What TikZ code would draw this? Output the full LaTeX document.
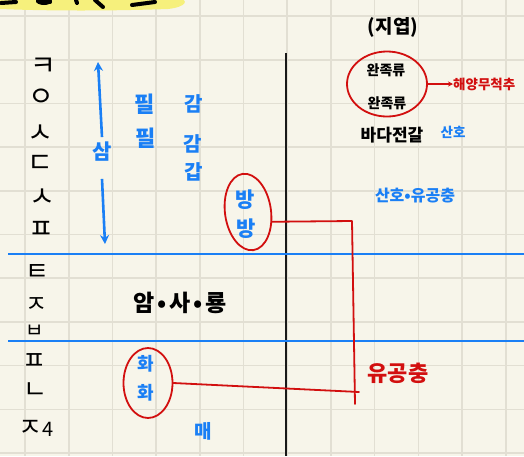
\documentclass[tikz,border=0pt]{standalone}
\usepackage{fontspec}
\newfontfamily\kr{Noto Sans CJK KR}
\usetikzlibrary{arrows.meta,shapes.geometric}
\definecolor{paper}{HTML}{F7F5EA}
\definecolor{gridc}{HTML}{E2DFD3}
\definecolor{pblue}{HTML}{1A7FF5}
\definecolor{pred}{HTML}{D20F0F}
\definecolor{hl}{HTML}{F6F07C}
\tikzset{
  txt/.style={inner sep=0pt, font=\kr\bfseries\fontsize{#1}{#1}\selectfont},
  jamo/.style={inner sep=0pt, text=black, font=\kr\fontsize{#1}{#1}\selectfont},
  blk/.style={txt=#1, text=black},
  blu/.style={txt=#1, text=pblue},
  rdt/.style={txt=#1, text=pred},
  redring/.style={draw=pred, line width=1.8pt, ellipse, inner sep=0pt},
  redline/.style={draw=pred, line width=1.8pt, line cap=round, line join=round},
  blueline/.style={draw=pblue, line width=2.6pt},
  bluearrow/.style={draw=pblue, line width=2.6pt, -{Stealth[length=9pt,width=9pt]}},
}
\begin{document}
\begin{tikzpicture}[x=1pt,y=-1pt]
\useasboundingbox (0,0) rectangle (524,456);
\fill[paper] (0,0) rectangle (524,456);
% grid
\foreach \i in {0,...,11} \draw[gridc, line width=1.6pt] ({25+43.7*\i},0) -- ({25+43.7*\i},456);
\foreach \i in {0,...,10} \draw[gridc, line width=1.6pt] (0,{16+43.7*\i}) -- (524,{16+43.7*\i});
% title highlight (cut off at top)
\fill[hl] (0,-2) -- (178,-2) .. controls (190,0) and (186,7) .. (168,9)
  .. controls (110,11) and (50,11) .. (0,9) -- cycle;
\begin{scope}[line width=4pt, line cap=round, black]
  \draw (1,3) -- (16,2);
  \draw (38,1) -- (50,2);
  \fill (44,1) ellipse (8pt and 4pt);
  \draw (76,0) -- (77,3);
  \draw (95,0) -- (103,7);
  \draw (132,5) -- (155,2);
\end{scope}
% main separators
\draw[line width=2.4pt, black!90] (286,53) -- (286,456);
\draw[blueline] (8,254) -- (524,254);
\draw[blueline] (8,341) -- (524,341);
% left column letters
\node[jamo=28] (k1) at (43,67) {ㅋ};
\node[jamo=28] (k2) at (41,98) {ㅇ};
\node[jamo=28] (k3) at (40,134) {ㅅ};
\node[jamo=28] (k4) at (40,164) {ㄷ};
\node[jamo=28] (k5) at (42,198) {ㅅ};
\node[jamo=28] (k6) at (41,230) {ㅍ};
\node[jamo=26] (m1) at (37,272) {ㅌ};
\node[jamo=24] (m2) at (37,305) {ㅈ};
\node[jamo=20] (m3) at (35,331) {ㅂ};
\node[jamo=26] (c1) at (34,362) {ㅍ};
\node[jamo=26] (c2) at (35,391) {ㄴ};
\node[jamo=26] (c3) at (36,428) {ㅈ\fontsize{20}{20}\selectfont 4};
% blue arrow with 삼
\node[blu=21] (sam) at (102,152) {삼};
\coordinate (samtop) at (98,62);
\coordinate (sambot) at (105,244);
\draw[bluearrow] ([yshift=5pt]sam.north) -- (samtop);
\draw[bluearrow] ([yshift=-17pt]sam.south) -- (sambot);
% 필 / 감
\node[blu=22] (p1) at (145,104) {필};
\node[blu=22] (p2) at (146,138) {필};
\node[blu=20] (g1) at (194,104) {감};
\node[blu=20] (g2) at (193,144) {감};
\node[blu=20] (g3) at (194,172) {갑};
% 방 방
\node[blu=21] (b1) at (245,200) {방};
\node[blu=21] (b2) at (246,229) {방};
\node[redring, minimum width=46pt, minimum height=77pt, rotate=8] (bangE) at (248,212) {};
% mesozoic
\node[blk=23] (ams) at (180,303) {암\hspace{3pt}•\hspace{3pt}사\hspace{3pt}•\hspace{3pt}룡};
% 화 화
\node[blu=18] (h1) at (146,364) {화};
\node[blu=18] (h2) at (146,393) {화};
\node[redring, minimum width=49pt, minimum height=70pt] (hwaE) at (148,383) {};
\node[blu=19] (mae) at (203,431) {매};
% right column
\node[blk=19] (jy) at (393,27) {(지엽)};
\node[blk=14] (w1) at (386,70) {완족류};
\node[blk=14] (w2) at (387,103) {완족류};
\node[redring, minimum width=80pt, minimum height=65pt] (wanE) at (387,84) {};
\node[rdt=13.5, anchor=west] (hy) at (453,84) {해양무척추};
\draw[redline, -{Stealth[length=5pt,width=5pt]}] (wanE.east) -- (hy.west);
\node[blk=17] (bd) at (392,135) {바다전갈};
\node[blu=13.5] (sh) at (453,132) {산호};
\node[blu=16] (shy) at (415,196) {산호•유공충};
\node[rdt=22] (ygc) at (398,373) {유공충};
% red bracket
\coordinate (rc1) at (352,221);
\coordinate (rc2) at (355,404);
\coordinate (rc3) at (359,392);
\draw[redline] (bangE.-30) -- (rc1) -- (rc2);
\draw[redline] (hwaE.east) -- (rc3);
\end{tikzpicture}
\end{document}
